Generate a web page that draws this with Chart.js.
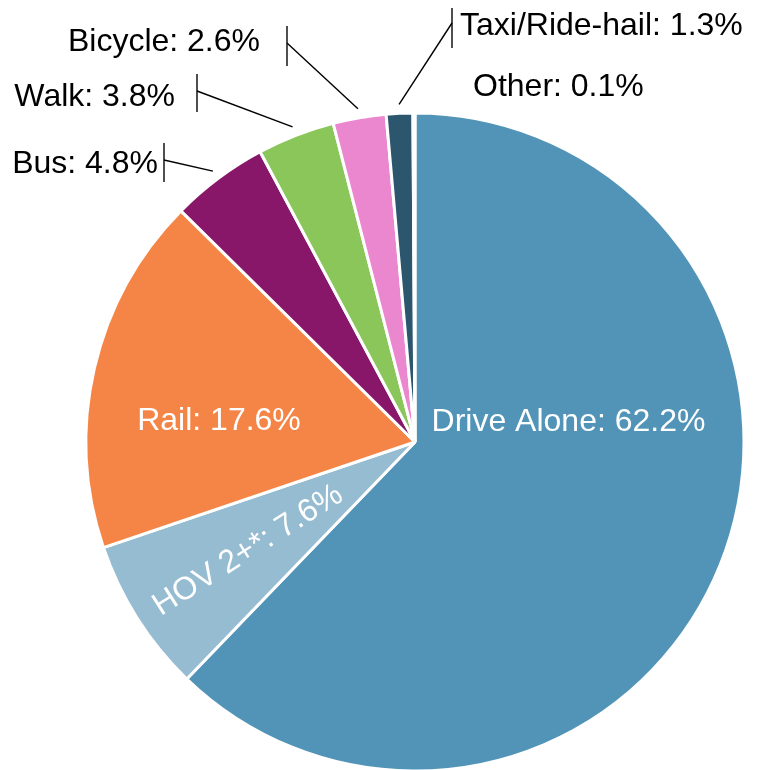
<!DOCTYPE html>
<html><head><meta charset="utf-8">
<script src="https://cdn.jsdelivr.net/npm/chart.js@4/dist/chart.umd.min.js"></script>
<style>html,body{margin:0;padding:0;background:#fff;overflow:hidden;width:759px;height:770px}canvas{display:block}</style>
</head><body><canvas id="c" width="759" height="770"></canvas>
<script>
// ---- data ----
const categories = ['Drive Alone', 'HOV 2+*', 'Rail', 'Bus', 'Walk', 'Bicycle', 'Taxi/Ride-hail', 'Other'];
const shares = [62.2, 7.6, 17.6, 4.8, 3.8, 2.6, 1.3, 0.1];
const colors = ['#5294B7', '#96BCD2', '#F58546', '#891769', '#8BC65B', '#EB87CF', '#2C566E', '#7F7F7F'];

// ---- label styling / placement (offsets from pie centre, px) ----
const FONT_SIZE = 32;
const FONT = FONT_SIZE + 'px "Liberation Sans", Arial, sans-serif';
const labelPlacement = {
  'Drive Alone':    {type: 'inside', dx: 153.5, dy: -22.5, color: '#fff'},
  'Rail':           {type: 'inside', dx: -196, dy: -23, color: '#fff'},
  'HOV 2+*':        {type: 'radial', frac: 0.605, color: '#fff'},
  'Bus':            {type: 'outside', align: 'right', tx: -257, ty: -280.5, tickX: -251, tickY1: -299, tickY2: -260, joinY: -282},
  'Walk':           {type: 'outside', align: 'right', tx: -240, ty: -347.5, tickX: -218, tickY1: -368, tickY2: -330, joinY: -351},
  'Bicycle':        {type: 'outside', align: 'right', tx: -155, ty: -402, tickX: -128, tickY1: -416, tickY2: -376, joinY: -399},
  'Taxi/Ride-hail': {type: 'outside', align: 'left', tx: 45, ty: -418.5, tickX: 37, tickY1: -434, tickY2: -394, joinY: -419},
  'Other':          {type: 'text', align: 'left', tx: 58, ty: -357}
};

const labelPlugin = {
  id: 'pieLabels',
  afterDatasetsDraw(chart) {
    const ctx = chart.ctx;
    const meta = chart.getDatasetMeta(0);
    ctx.save();
    ctx.font = FONT;
    const capH = ctx.measureText('H').actualBoundingBoxAscent;
    meta.data.forEach((arc, i) => {
      const cat = categories[i];
      const p = labelPlacement[cat];
      if (!p) return;
      const text = cat + ': ' + shares[i] + '%';
      const cx = arc.x, cy = arc.y, r = arc.outerRadius;
      const mid = (arc.startAngle + arc.endAngle) / 2;
      ctx.textBaseline = 'alphabetic';
      if (p.type === 'inside') {
        ctx.fillStyle = p.color; ctx.textAlign = 'center';
        ctx.fillText(text, cx + p.dx, cy + p.dy + capH / 2);
      } else if (p.type === 'radial') {
        const x = cx + Math.cos(mid) * r * p.frac;
        const y = cy + Math.sin(mid) * r * p.frac;
        ctx.save();
        ctx.translate(x, y);
        ctx.rotate(mid + Math.PI);
        ctx.fillStyle = p.color; ctx.textAlign = 'center';
        ctx.fillText(text, 0, capH / 2);
        ctx.restore();
      } else {
        ctx.fillStyle = '#000';
        ctx.textAlign = p.align;
        ctx.fillText(text, cx + p.tx, cy + p.ty + capH / 2);
        if (p.type === 'outside') {
          ctx.strokeStyle = '#222';
          ctx.lineWidth = 1.6;
          ctx.beginPath();
          ctx.moveTo(cx + p.tickX, cy + p.tickY1);
          ctx.lineTo(cx + p.tickX, cy + p.tickY2);
          ctx.stroke();
          ctx.strokeStyle = '#000';
          ctx.lineWidth = 1.4;
          ctx.beginPath();
          ctx.moveTo(cx + p.tickX, cy + p.joinY);
          ctx.lineTo(cx + Math.cos(mid) * (r + 9), cy + Math.sin(mid) * (r + 9));
          ctx.stroke();
        }
      }
    });
    ctx.restore();
  }
};

new Chart(document.getElementById('c'), {
  type: 'pie',
  data: {
    labels: categories,
    datasets: [{
      data: shares,
      backgroundColor: colors,
      borderColor: '#ffffff',
      borderWidth: 3,
      clip: false
    }]
  },
  options: {
    responsive: false,
    animation: false,
    radius: 329,
    layout: {padding: {left: 71, right: 0, top: 114, bottom: 0}},
    plugins: {legend: {display: false}, tooltip: {enabled: false}}
  },
  plugins: [labelPlugin]
});
</script>
</body></html>
